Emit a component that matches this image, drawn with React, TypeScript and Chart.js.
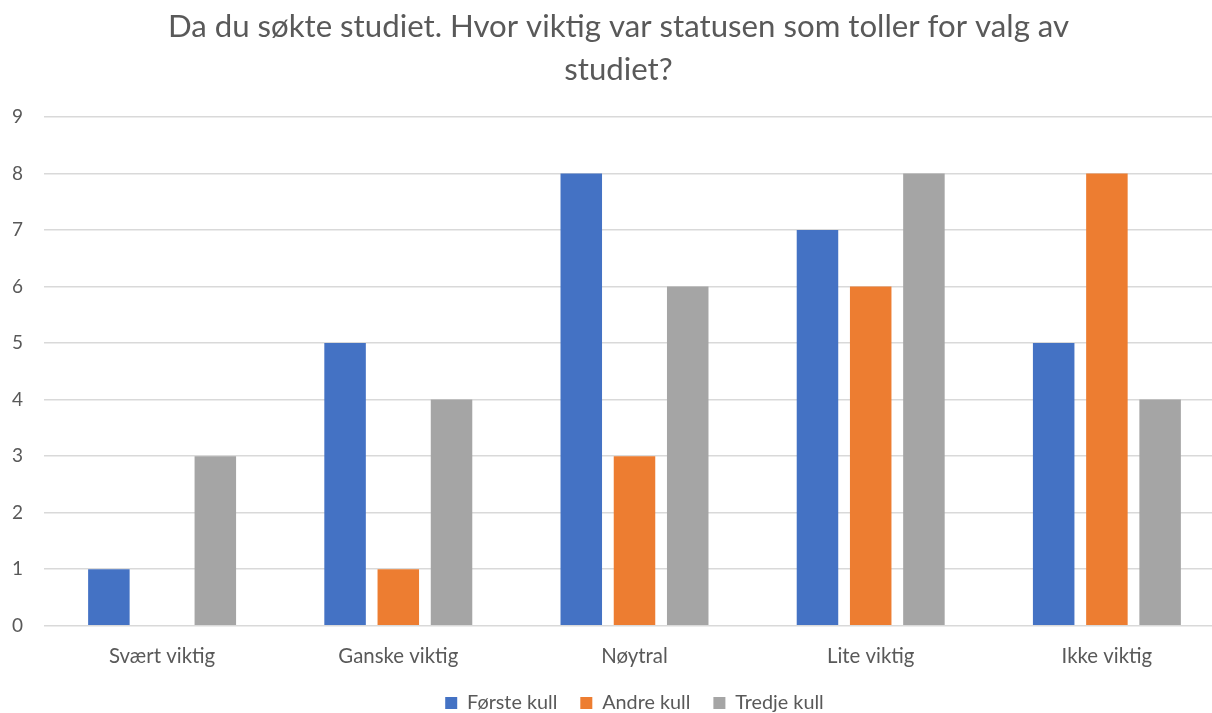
import React, { useEffect, useRef } from "react";
import { Chart, registerables } from "chart.js";

Chart.register(...registerables);

const categories = ["Svært viktig", "Ganske viktig", "Nøytral", "Lite viktig", "Ikke viktig"];
const forsteKull = [1, 5, 8, 7, 5];
const andreKull = [0, 1, 3, 6, 8];
const tredjeKull = [3, 4, 6, 8, 4];
const titleLines = ["Da du søkte studiet. Hvor viktig var statusen som toller for valg av", "studiet?"];

const FONT = "Lato, 'Open Sans', sans-serif";
const TEXT = "#595959";

export default function App() {
  const ref = useRef<HTMLCanvasElement | null>(null);
  useEffect(() => {
    document.body.style.margin = "0";
    const chart = new Chart(ref.current!, {
      type: "bar",
      data: {
        labels: categories,
        datasets: [
          { label: "Første kull", data: forsteKull, backgroundColor: "#4472C4" },
          { label: "Andre kull", data: andreKull, backgroundColor: "#ED7D31" },
          { label: "Tredje kull", data: tredjeKull, backgroundColor: "#A5A5A5" },
        ],
      },
      options: {
        responsive: false,
        animation: false,
        layout: { padding: { left: 12, right: 0, top: 0, bottom: 0 } },
        datasets: { bar: { categoryPercentage: 0.676, barPercentage: 0.78 } },
        plugins: {
          title: {
            display: true,
            text: titleLines,
            color: TEXT,
            font: { family: FONT, size: 31.2, weight: "normal", lineHeight: 1.378 },
            padding: { top: 5, bottom: 26 },
          },
          legend: {
            position: "bottom",
            fullSize: false,
            labels: {
              color: TEXT,
              font: { family: FONT, size: 19.8 },
              boxWidth: 12,
              boxHeight: 12,
              padding: 23,
            },
          },
          tooltip: { enabled: false },
        },
        scales: {
          x: {
            afterFit: (s: any) => { s.height = 44.5; },
            grid: { display: false, drawTicks: false },
            border: { display: false },
            ticks: { color: TEXT, font: { family: FONT, size: 20.4 }, padding: 18.8 },
          },
          y: {
            min: 0,
            max: 9,
            afterFit: (s: any) => { s.width = 32; },
            grid: { color: "#D9D9D9", lineWidth: 1.5, drawTicks: false },
            border: { display: false },
            ticks: { stepSize: 1, color: TEXT, font: { family: FONT, size: 19 }, padding: 21 },
          },
        },
      },
    });
    return () => chart.destroy();
  }, []);
  return (
    <div style={{ position: "fixed", left: 0, top: 0, width: 1212, height: 713, overflow: "hidden", background: "#fff" }}>
      <canvas ref={ref} width={1225} height={723} style={{ display: "block" }} />
    </div>
  );
}
